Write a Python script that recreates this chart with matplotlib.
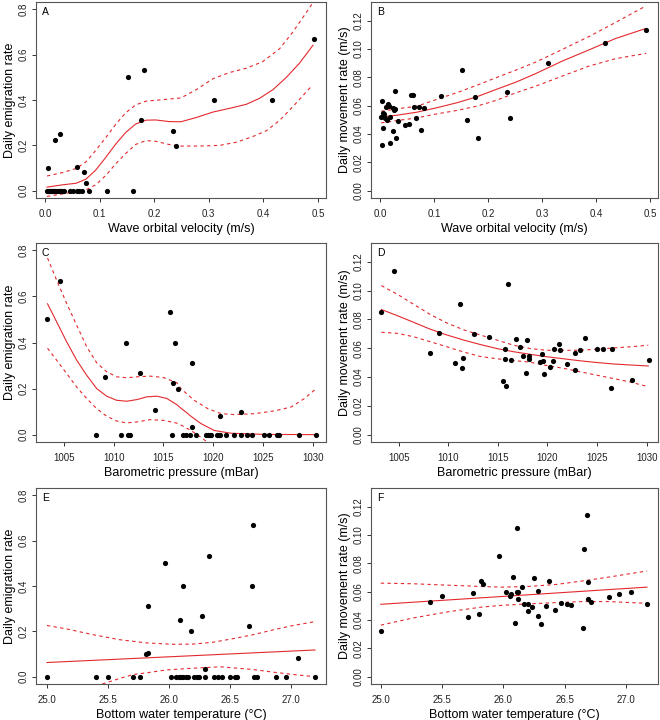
import numpy as np
import matplotlib
matplotlib.use("Agg")
import matplotlib.pyplot as plt

plt.rcParams['font.family'] = ['Liberation Sans', 'DejaVu Sans']

# ---- panel A: wave orbital velocity vs daily emigration rate
a_x = [0.003, 0.005, 0.007, 0.009, 0.011, 0.013, 0.015, 0.017, 0.019, 0.021,
       0.023, 0.025, 0.027, 0.029, 0.031, 0.034, 0.046, 0.052, 0.058, 0.063,
       0.067, 0.081, 0.114, 0.162,
       0.006, 0.018, 0.028, 0.0585, 0.071, 0.076, 0.152, 0.176, 0.181, 0.234,
       0.241, 0.31, 0.416, 0.493]
a_y = [0] * 24 + [0.1, 0.222, 0.25, 0.105, 0.083, 0.035, 0.5, 0.31, 0.533,
                  0.265, 0.198, 0.4, 0.4, 0.667]
a_cx = [0.0037, 0.032, 0.057, 0.075, 0.093, 0.112, 0.13, 0.148, 0.166, 0.185,
        0.203, 0.227, 0.249, 0.2775, 0.308, 0.338, 0.369, 0.393, 0.418, 0.442,
        0.466, 0.491]
a_fit = [0.016, 0.026, 0.033, 0.051, 0.091, 0.149, 0.207, 0.257, 0.294, 0.311,
         0.312, 0.305, 0.304, 0.323, 0.347, 0.363, 0.381, 0.407, 0.446, 0.499,
         0.561, 0.641]
a_ux = [0.0037, 0.032, 0.057, 0.075, 0.093, 0.112, 0.13, 0.148, 0.166, 0.185,
        0.209, 0.249, 0.2775, 0.308, 0.338, 0.369, 0.399, 0.43, 0.454, 0.479,
        0.491]
a_up = [0.065, 0.08, 0.098, 0.127, 0.178, 0.236, 0.294, 0.344, 0.378, 0.395,
        0.4, 0.409, 0.446, 0.494, 0.521, 0.54, 0.569, 0.626, 0.699, 0.786,
        0.829]
a_lx = [0.0037, 0.032, 0.057, 0.075, 0.093, 0.112, 0.13, 0.148, 0.166, 0.185,
        0.203, 0.227, 0.249, 0.2835, 0.32, 0.351, 0.381, 0.406, 0.43, 0.454,
        0.488]
a_lo = [-0.025, -0.014, -0.004, 0.004, 0.026, 0.069, 0.12, 0.164, 0.204,
        0.221, 0.218, 0.204, 0.197, 0.197, 0.2, 0.214, 0.239, 0.265, 0.31,
        0.37, 0.46]

# ---- panel B: wave orbital velocity vs daily movement rate
b_x = [0.003, 0.004, 0.0055, 0.0025, 0.0055, 0.007, 0.009, 0.012, 0.0147,
       0.0135, 0.017, 0.0196, 0.018, 0.024, 0.025, 0.0257, 0.0275, 0.0288,
       0.0294, 0.033, 0.047, 0.0545, 0.058, 0.0606, 0.0636, 0.067, 0.0716,
       0.076, 0.0814, 0.1138, 0.1524, 0.162, 0.176, 0.1818, 0.235, 0.241,
       0.311, 0.4168, 0.492]
b_y = [0.063, 0.0325, 0.0446, 0.0523, 0.055, 0.0538, 0.0514, 0.059, 0.061,
       0.050, 0.060, 0.052, 0.034, 0.0585, 0.0424, 0.0568, 0.0577, 0.0703,
       0.0375, 0.049, 0.0464, 0.0469, 0.0674, 0.0672, 0.0594, 0.0514, 0.0594,
       0.0429, 0.0587, 0.0667, 0.0849, 0.0497, 0.0658, 0.0372, 0.0693, 0.0516,
       0.0903, 0.1044, 0.1136]
b_cx = [0.0025, 0.032, 0.0685, 0.105, 0.142, 0.179, 0.215, 0.252, 0.289,
        0.338, 0.387, 0.436, 0.493]
b_fit = [0.0521, 0.0533, 0.0554, 0.0585, 0.062, 0.0662, 0.0714, 0.0766,
         0.0827, 0.0915, 0.0993, 0.1073, 0.1145]
b_up = [0.0561, 0.0578, 0.0596, 0.0644, 0.0691, 0.0743, 0.0797, 0.0851,
        0.0908, 0.0997, 0.1087, 0.1186, 0.1304]
b_lo = [0.0479, 0.0495, 0.0514, 0.0542, 0.0566, 0.0596, 0.0637, 0.0691,
        0.0738, 0.0809, 0.0879, 0.0931, 0.0969]

# ---- panel C: barometric pressure vs daily emigration rate
c_x = [1003.35, 1004.63, 1008.26, 1009.13, 1010.75, 1011.29, 1011.47,
       1011.67, 1012.66, 1014.21, 1015.62, 1015.86, 1015.93, 1016.13,
       1016.46, 1016.96, 1017.3, 1017.63, 1017.92, 1017.92, 1018.24,
       1019.25, 1019.45, 1019.65, 1019.79, 1020.41, 1020.6, 1020.7, 1020.72,
       1021.33, 1022.08, 1022.79, 1022.84, 1023.39, 1023.88, 1025.07,
       1025.67, 1026.43, 1026.64, 1028.65, 1030.34]
c_y = [0.5, 0.666, 0, 0.25, 0, 0.4, 0, 0, 0.267, 0.105, 0.533, 0, 0.222, 0.4,
       0.2, 0, 0, 0, 0.311, 0.032, 0, 0, 0, 0, 0, 0, 0, 0, 0.083, 0, 0, 0,
       0.099, 0, 0, 0, 0, 0, 0, 0, 0]
c_cx = [1003.36, 1004.26, 1005.27, 1006.28, 1007.29, 1008.3, 1009.3, 1010.31,
        1011.32, 1012.33, 1013.34, 1014.35, 1015.35, 1016.36, 1016.76,
        1017.27, 1017.77, 1018.78, 1020.12, 1021.8, 1025.16, 1030.37]
c_fit = [0.568, 0.491, 0.404, 0.324, 0.258, 0.2, 0.167, 0.149, 0.145, 0.152,
         0.164, 0.167, 0.157, 0.13, 0.115, 0.098, 0.08, 0.048, 0.018, 0.006,
         0.001, 0.0]
c_ux = [1003.36, 1004.26, 1005.27, 1006.28, 1007.29, 1008.3, 1009.3, 1010.31,
        1011.32, 1012.33, 1013.67, 1015.02, 1016.36, 1016.76, 1018.1,
        1019.46, 1020.8, 1022.14, 1024.15, 1026.17, 1027.85, 1029.19, 1030.37]
c_up = [0.767, 0.672, 0.571, 0.476, 0.382, 0.312, 0.273, 0.251, 0.247, 0.251,
        0.254, 0.248, 0.225, 0.2, 0.149, 0.113, 0.091, 0.087, 0.091, 0.103,
        0.12, 0.157, 0.2]
c_lx = [1003.36, 1004.26, 1005.27, 1006.28, 1007.29, 1008.3, 1009.3, 1010.31,
        1011.32, 1012.33, 1013.67, 1015.02, 1016.36, 1016.76, 1017.77,
        1018.5, 1019.5, 1020.3]
c_lo = [0.375, 0.324, 0.266, 0.207, 0.157, 0.113, 0.08, 0.059, 0.051, 0.055,
        0.065, 0.062, 0.05, 0.042, 0.018, -0.003, -0.035, -0.06]

# ---- panel D: barometric pressure vs daily movement rate
d_x = [1003.25, 1004.53, 1008.12, 1009.03, 1010.64, 1011.17, 1011.41,
       1011.51, 1012.55, 1014.13, 1015.47, 1015.7, 1015.7, 1015.8, 1016.0,
       1016.34, 1016.84, 1017.28, 1017.55, 1017.85, 1017.89, 1018.12,
       1018.16, 1019.26, 1019.4, 1019.5, 1019.66, 1020.27, 1020.54, 1020.67,
       1021.17, 1021.24, 1021.95, 1022.8, 1022.8, 1023.3, 1023.8, 1024.97,
       1025.57, 1026.38, 1026.54, 1028.5, 1030.23]
d_y = [0.085, 0.1139, 0.0567, 0.0704, 0.0498, 0.0905, 0.0465, 0.0532,
       0.0697, 0.0678, 0.0373, 0.0595, 0.0524, 0.034, 0.1047, 0.0517,
       0.0666, 0.061, 0.0545, 0.0428, 0.0654, 0.0548, 0.0524, 0.0506,
       0.0558, 0.051, 0.042, 0.047, 0.0513, 0.0595, 0.063, 0.0586, 0.0491,
       0.0569, 0.0447, 0.0588, 0.0673, 0.0593, 0.0595, 0.0326, 0.0598,
       0.0378, 0.052]
d_cx = [1003.25, 1004.83, 1006.51, 1008.19, 1009.87, 1011.54, 1013.22,
        1014.9, 1016.58, 1018.26, 1019.93, 1021.61, 1023.29, 1024.97,
        1026.64, 1028.32, 1030.17]
d_fit = [0.0869, 0.0827, 0.078, 0.0732, 0.0692, 0.0657, 0.0626, 0.0598,
         0.0576, 0.0558, 0.0541, 0.0527, 0.0513, 0.0501, 0.0491, 0.0484,
         0.0477]
d_up = [0.1035, 0.0976, 0.0905, 0.0834, 0.0775, 0.0728, 0.0692, 0.0657,
        0.0621, 0.0598, 0.0586, 0.0586, 0.0586, 0.0593, 0.0602, 0.061,
        0.0621]
d_lo = [0.0711, 0.0704, 0.068, 0.0645, 0.061, 0.0574, 0.0543, 0.0527,
        0.0515, 0.0503, 0.048, 0.0461, 0.0437, 0.0413, 0.039, 0.0366, 0.0333]

# ---- panel E: bottom water temperature vs daily emigration rate
e_x = [25.0, 25.4, 25.5, 25.71, 25.76, 25.81, 25.83, 25.83, 25.97, 26.02,
       26.06, 26.08, 26.1, 26.12, 26.14, 26.16, 26.09, 26.12, 26.18, 26.21,
       26.23, 26.25, 26.27, 26.3, 26.3, 26.33, 26.37, 26.4, 26.44, 26.5,
       26.54, 26.56, 26.66, 26.68, 26.69, 26.7, 26.72, 26.88, 26.96, 27.06,
       27.2]
e_y = [0, 0, 0, 0, 0, 0.099, 0.103, 0.31, 0.5, 0, 0, 0, 0, 0, 0, 0, 0.249,
       0.4, 0.2, 0, 0, 0, 0.267, 0.0335, 0, 0.533, 0, 0, 0, 0, 0, 0, 0.222,
       0.4, 0.667, 0, 0, 0, 0, 0.0816, 0]
e_cx = [25.0, 27.2]
e_fit = [0.0627, 0.118]
e_ux = [25.0, 25.16, 25.38, 25.6, 25.82, 26.04, 26.2, 26.36, 26.53, 26.69,
        26.86, 27.02, 27.2]
e_up = [0.226, 0.211, 0.185, 0.163, 0.149, 0.143, 0.144, 0.152, 0.168, 0.185,
        0.207, 0.226, 0.243]
e_lx = [25.35, 25.46, 25.6, 25.71, 25.82, 25.98, 26.15, 26.25, 26.36, 26.42,
        26.53, 26.69, 26.86, 27.02, 27.2]
e_lo = [-0.05, -0.031, -0.007, 0.01, 0.0175, 0.03, 0.036, 0.039, 0.042,
        0.044, 0.039, 0.032, 0.02, 0.01, 0.0]

# ---- panel F: bottom water temperature vs daily movement rate
f_x = [25.0, 25.4, 25.5, 25.71, 25.75, 25.8, 25.82, 25.83, 25.96, 26.02,
       26.05, 26.06, 26.08, 26.09, 26.11, 26.12, 26.12, 26.11, 26.15, 26.17,
       26.2, 26.2, 26.23, 26.25, 26.28, 26.28, 26.31, 26.35, 26.37, 26.42,
       26.47, 26.52, 26.55, 26.65, 26.66, 26.68, 26.69, 26.69, 26.71, 26.86,
       26.94, 27.04, 27.17]
f_y = [0.0324, 0.053, 0.0566, 0.0421, 0.0594, 0.0445, 0.0677, 0.0656, 0.085,
       0.0596, 0.057, 0.0587, 0.0703, 0.0376, 0.0596, 0.0547, 0.0596, 0.1046,
       0.063, 0.0516, 0.0516, 0.0466, 0.049, 0.0696, 0.0608, 0.0426, 0.0372,
       0.0497, 0.0672, 0.0471, 0.0523, 0.0514, 0.0504, 0.0341, 0.0904,
       0.1138, 0.0667, 0.0549, 0.0525, 0.0559, 0.0587, 0.0596, 0.0514]
f_cx = [25.0, 27.17]
f_fit = [0.0511, 0.0632]
f_bx = [25.0, 25.26, 25.54, 25.81, 25.99, 26.21, 26.43, 26.64, 26.86, 27.17]
f_up = [0.066, 0.0656, 0.0646, 0.0637, 0.0632, 0.0637, 0.0651, 0.0675,
        0.0703, 0.0746]
f_lo = [0.0364, 0.0414, 0.0457, 0.049, 0.0504, 0.0514, 0.0523, 0.053,
        0.053, 0.0518]

emig_ticks = [0.0, 0.2, 0.4, 0.6, 0.8]
move_ticks = [0.00, 0.02, 0.04, 0.06, 0.08, 0.10, 0.12]

RED = '#e3292e'

fig = plt.figure(figsize=(6.6, 7.2), dpi=100)

left_l, w_l = 36 / 660, 290 / 660
left_r, w_r = 371 / 660, 287 / 660
rows = [(1 - 198 / 720, 196 / 720), (1 - 442 / 720, 199 / 720),
        (1 - 684 / 720, 196 / 720)]


def style(ax, xlim, ylim, xticks, yticks, xfmt, yfmt, xlabel, ylabel, letter):
    ax.set_xlim(*xlim)
    ax.set_ylim(*ylim)
    ax.set_xticks(xticks)
    ax.set_xticklabels([xfmt.format(t) for t in xticks], fontsize=7)
    ax.set_yticks(yticks)
    ax.set_yticklabels([yfmt.format(t) for t in yticks], fontsize=7,
                       rotation=90, va='center')
    ax.tick_params(direction='out', length=3, width=0.7, colors='#333333',
                   labelcolor='#222222')
    ax.tick_params(axis='x', pad=5)
    ax.tick_params(axis='y', pad=2.5)
    for s in ax.spines.values():
        s.set_linewidth(0.8)
        s.set_color('#555555')
    ax.set_xlabel(xlabel, fontsize=9, labelpad=3)
    ax.set_ylabel(ylabel, fontsize=9, labelpad=1.5)
    ax.text(0.02, 0.975, letter, transform=ax.transAxes, fontsize=7.5,
            va='top', ha='left')


def draw(ax, x, y, cx, fit, ux, up, lx, lo):
    ax.plot(cx, fit, color=RED, lw=0.8)
    ax.plot(ux, up, color=RED, lw=0.8, ls=(0, (3, 3)))
    ax.plot(lx, lo, color=RED, lw=0.8, ls=(0, (3, 3)))
    ax.scatter(x, y, s=14, color='black', zorder=3, linewidths=0)


wave_xlim = (-0.0165, 0.515)
wave_ticks = [0.0, 0.1, 0.2, 0.3, 0.4, 0.5]
pres_xlim = (1002.2, 1031.35)
pres_ticks = [1005, 1010, 1015, 1020, 1025, 1030]
temp_xlim = (24.91, 27.29)
temp_ticks = [25.0, 25.5, 26.0, 26.5, 27.0]
emig_ylim = (-0.032, 0.832)
move_ylim = (-0.0051, 0.1331)

axA = fig.add_axes([left_l, rows[0][0], w_l, rows[0][1]])
draw(axA, a_x, a_y, a_cx, a_fit, a_ux, a_up, a_lx, a_lo)
style(axA, wave_xlim, emig_ylim, wave_ticks, emig_ticks, '{:.1f}', '{:.1f}',
      'Wave orbital velocity (m/s)', 'Daily emigration rate', 'A')

axB = fig.add_axes([left_r, rows[0][0], w_r, rows[0][1]])
draw(axB, b_x, b_y, b_cx, b_fit, b_cx, b_up, b_cx, b_lo)
style(axB, wave_xlim, move_ylim, wave_ticks, move_ticks, '{:.1f}', '{:.2f}',
      'Wave orbital velocity (m/s)', 'Daily movement rate (m/s)', 'B')

axC = fig.add_axes([left_l, rows[1][0], w_l, rows[1][1]])
draw(axC, c_x, c_y, c_cx, c_fit, c_ux, c_up, c_lx, c_lo)
style(axC, pres_xlim, emig_ylim, pres_ticks, emig_ticks, '{:d}', '{:.1f}',
      'Barometric pressure (mBar)', 'Daily emigration rate', 'C')

axD = fig.add_axes([left_r, rows[1][0], w_r, rows[1][1]])
draw(axD, d_x, d_y, d_cx, d_fit, d_cx, d_up, d_cx, d_lo)
style(axD, (1002.2, 1031.15), move_ylim, pres_ticks, move_ticks, '{:d}',
      '{:.2f}', 'Barometric pressure (mBar)', 'Daily movement rate (m/s)', 'D')

axE = fig.add_axes([left_l, rows[2][0], w_l, rows[2][1]])
draw(axE, e_x, e_y, e_cx, e_fit, e_ux, e_up, e_lx, e_lo)
style(axE, temp_xlim, emig_ylim, temp_ticks, emig_ticks, '{:.1f}', '{:.1f}',
      'Bottom water temperature (\u00b0C)', 'Daily emigration rate', 'E')

axF = fig.add_axes([left_r, rows[2][0], w_r, rows[2][1]])
draw(axF, f_x, f_y, f_cx, f_fit, f_bx, f_up, f_bx, f_lo)
style(axF, (24.92, 27.26), move_ylim, temp_ticks, move_ticks, '{:.1f}',
      '{:.2f}', 'Bottom water temperature (\u00b0C)',
      'Daily movement rate (m/s)', 'F')

fig.savefig('out.png', dpi=100)
